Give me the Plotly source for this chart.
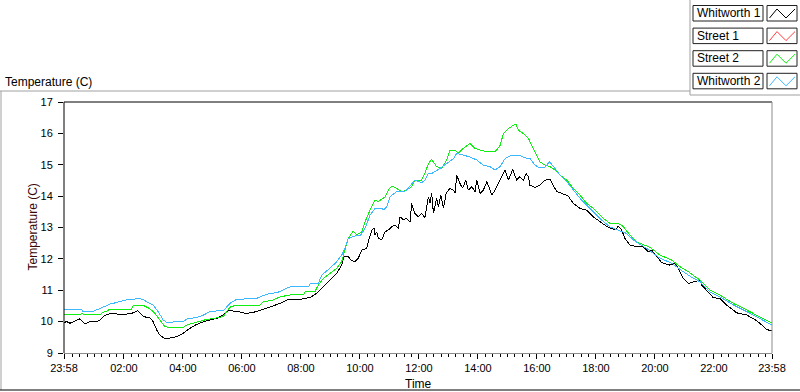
import plotly.graph_objects as go

# ---------------- data (hours from midnight; start = 23:58 of previous day) ----------------
whitworth1_time = [-0.033, 0.057, 0.17, 0.28, 0.40, 0.51, 0.62, 0.68, 0.85, 1.07, 1.19, 1.30, 1.41, 1.64, 1.86,
                   2.09, 2.32, 2.46, 2.54, 2.66, 2.88, 2.99, 3.11, 3.22, 3.39, 3.56, 3.79, 4.01, 4.24, 4.46,
                   4.80, 5.14, 5.37, 5.54, 5.82, 6.05, 6.16, 6.50, 6.72, 6.95, 7.29, 7.52, 7.97, 8.31, 8.53,
                   8.76, 8.98, 9.21, 9.38, 9.46, 9.60, 9.72, 9.83, 9.94, 10.06, 10.23, 10.28, 10.40, 10.48,
                   10.51, 10.57, 10.62, 10.74, 10.85, 10.96, 11.07, 11.19, 11.30, 11.36, 11.47, 11.58, 11.70,
                   11.75, 11.86, 11.98, 12.09, 12.20, 12.26, 12.32, 12.37, 12.43, 12.49, 12.60, 12.66, 12.74,
                   12.83, 12.92, 13.05, 13.17, 13.22, 13.28, 13.39, 13.48, 13.59, 13.67, 13.79, 13.90, 13.96,
                   14.07, 14.18, 14.30, 14.41, 14.46, 14.58, 14.69, 14.80, 14.92, 15.03, 15.18, 15.31, 15.42,
                   15.54, 15.63, 15.71, 15.76, 15.93, 16.10, 16.27, 16.44, 16.55, 16.67, 16.84, 17.06, 17.23,
                   17.46, 17.68, 17.91, 18.19, 18.36, 18.64, 18.76, 18.87, 18.98, 19.15, 19.38, 19.60, 19.77,
                   19.89, 20.06, 20.23, 20.51, 20.68, 20.79, 20.96, 21.13, 21.36, 21.53, 21.58, 21.81, 21.98,
                   22.20, 22.43, 22.77, 23.11, 23.45, 23.79, 23.967]
whitworth1_temp = [9.97, 10.00, 9.95, 10.00, 10.05, 10.09, 9.97, 9.92, 10.00, 10.00, 10.05, 10.16, 10.23, 10.26, 10.23,
                   10.24, 10.28, 10.35, 10.28, 10.16, 10.12, 10.00, 9.73, 9.57, 9.45, 9.47, 9.52, 9.63, 9.79, 9.91,
                   10.03, 10.10, 10.21, 10.35, 10.33, 10.28, 10.26, 10.32, 10.39, 10.47, 10.58, 10.69, 10.71, 10.77, 10.90,
                   11.11, 11.32, 11.54, 11.80, 12.07, 12.07, 11.94, 11.91, 12.02, 12.28, 12.33, 12.54, 12.92, 12.97,
                   12.76, 12.86, 12.65, 12.62, 12.86, 12.92, 13.02, 13.08, 12.97, 13.34, 13.24, 13.29, 13.18,
                   13.77, 13.45, 13.34, 13.45, 13.32, 13.66, 13.98, 13.77, 14.09, 13.45, 13.93, 13.66, 14.03,
                   13.61, 14.09, 14.25, 14.19, 14.09, 14.67, 14.40, 14.25, 14.51, 14.19, 14.30, 14.14, 14.51,
                   14.09, 14.19, 14.46, 14.19, 14.03, 14.19, 14.40, 14.56, 14.83, 14.51, 14.85, 14.51, 14.62,
                   14.51, 14.72, 14.62, 14.35, 14.28, 14.35, 14.51, 14.53, 14.35, 14.14, 14.09, 14.00, 13.77,
                   13.61, 13.55, 13.34, 13.15, 13.04, 12.92, 13.04, 12.92, 12.65, 12.44, 12.39, 12.39, 12.23,
                   12.28, 12.07, 11.88, 11.80, 11.86, 11.70, 11.38, 11.22, 11.27, 11.32, 11.17, 10.92, 10.76,
                   10.74, 10.53, 10.28, 10.21, 10.03, 9.75, 9.70]

street1_time = []   # no visible data for Street 1
street1_temp = []

street2_time = [-0.033, 0.51, 0.57, 0.68, 1.19, 1.28, 1.41, 1.53, 2.26, 2.32, 2.66, 2.71, 2.88, 3.05, 3.22, 3.39,
                3.56, 4.01, 4.12, 4.35, 4.58, 4.80, 5.03, 5.37, 5.48, 5.59, 5.82, 6.61, 6.72, 7.06, 7.29, 7.63,
                8.08, 8.14, 8.48, 8.59, 8.76, 8.98, 9.21, 9.38, 9.49, 9.60, 9.77, 9.89, 10.06, 10.17, 10.34,
                10.51, 10.62, 10.74, 10.85, 10.96, 11.07, 11.24, 11.41, 11.58, 11.75, 11.86, 12.09, 12.20,
                12.32, 12.43, 12.60, 12.77, 12.94, 13.05, 13.22, 13.33, 13.50, 13.73, 13.90, 14.07, 14.30,
                14.58, 14.75, 14.86, 15.03, 15.20, 15.29, 15.37, 15.54, 15.71, 15.82, 15.99, 16.10, 16.27,
                16.44, 16.61, 16.78, 17.01, 17.23, 17.46, 17.68, 17.91, 18.19, 18.47, 18.81, 18.93, 19.15,
                19.38, 19.83, 20.17, 20.57, 20.85, 21.13, 21.53, 21.86, 22.20, 22.66, 23.11, 23.45, 23.79, 23.967]
street2_temp = [10.22, 10.22, 10.26, 10.22, 10.22, 10.30, 10.33, 10.40, 10.40, 10.53, 10.53, 10.49, 10.41, 10.26, 10.05, 9.84,
                9.81, 9.81, 9.89, 9.95, 10.00, 10.07, 10.10, 10.16, 10.32, 10.46, 10.53, 10.53, 10.63, 10.69, 10.79, 10.85,
                10.85, 10.95, 10.97, 11.17, 11.38, 11.54, 11.70, 11.91, 12.28, 12.65, 12.89, 12.76, 12.86, 13.18, 13.55,
                13.87, 13.82, 13.92, 13.98, 14.19, 14.32, 14.25, 14.14, 14.19, 14.30, 14.51, 14.51, 14.72,
                15.04, 15.17, 14.94, 14.88, 15.15, 15.47, 15.47, 15.36, 15.52, 15.68, 15.52, 15.47, 15.41,
                15.41, 15.62, 15.99, 16.15, 16.26, 16.28, 16.10, 15.99, 15.84, 15.62, 15.31, 15.09, 14.99,
                14.94, 14.83, 14.67, 14.51, 14.25, 14.03, 13.77, 13.61, 13.34, 13.13, 13.11, 13.02, 12.76,
                12.54, 12.37, 12.12, 11.96, 11.75, 11.59, 11.32, 11.01, 10.85, 10.58, 10.37, 10.21, 10.05, 9.95]

whitworth2_time = [-0.033, 0.566, 0.60, 0.96, 1.19, 1.53, 1.75, 1.98, 2.15, 2.54, 2.65, 2.77, 2.99, 3.16, 3.33,
                   3.45, 4.01, 4.13, 4.58, 4.80, 4.92, 5.37, 5.48, 5.59, 5.82, 6.50, 6.61, 6.95, 7.18, 7.63,
                   8.25, 8.31, 8.59, 8.70, 8.98, 9.21, 9.38, 9.49, 9.60, 9.83, 10.00, 10.17, 10.34, 10.51,
                   10.74, 10.79, 10.91, 11.02, 11.24, 11.47, 11.58, 11.75, 11.86, 12.09, 12.20, 12.32, 12.43,
                   12.71, 12.94, 13.17, 13.28, 13.50, 13.73, 13.96, 14.18, 14.41, 14.58, 14.75, 14.92, 15.14,
                   15.37, 15.59, 15.76, 15.93, 16.05, 16.27, 16.42, 16.55, 16.78, 17.01, 17.23, 17.46, 17.68,
                   17.91, 18.19, 18.47, 18.70, 19.04, 19.27, 19.72, 20.17, 20.57, 20.96, 21.30, 21.53, 21.86,
                   22.20, 22.66, 23.11, 23.45, 23.79, 23.967]
whitworth2_temp = [10.40, 10.40, 10.33, 10.33, 10.42, 10.56, 10.61, 10.67, 10.71, 10.73, 10.71, 10.63, 10.53, 10.32, 10.05,
                   9.98, 10.00, 10.08, 10.16, 10.26, 10.33, 10.35, 10.47, 10.58, 10.71, 10.74, 10.79, 10.90, 10.92, 11.11,
                   11.11, 11.20, 11.22, 11.48, 11.70, 11.91, 12.12, 12.33, 12.65, 12.73, 12.73, 12.97, 13.39, 13.61,
                   13.61, 13.56, 13.66, 13.98, 14.14, 14.14, 14.19, 14.40, 14.51, 14.43, 14.51, 14.72, 14.72,
                   14.88, 15.04, 15.20, 15.36, 15.31, 15.25, 15.15, 14.99, 14.94, 14.83, 14.94, 15.20, 15.31,
                   15.31, 15.22, 15.20, 14.99, 14.92, 14.92, 15.09, 14.96, 14.67, 14.46, 14.19, 13.93, 13.71,
                   13.50, 13.24, 13.02, 12.94, 12.81, 12.60, 12.33, 12.02, 11.86, 11.59, 11.38, 11.27, 10.95,
                   10.79, 10.53, 10.32, 10.16, 10.00, 9.89]

series_names = ["Whitworth 1", "Street 1", "Street 2", "Whitworth 2"]
series_colors = ["#000000", "#ff3b3b", "#10f010", "#3cb8ff"]

x_tick_vals = [-2 / 60, 2, 4, 6, 8, 10, 12, 14, 16, 18, 20, 22, 24 - 2 / 60]
x_tick_text = ["23:58", "02:00", "04:00", "06:00", "08:00", "10:00", "12:00",
               "14:00", "16:00", "18:00", "20:00", "22:00", "23:58"]
y_tick_vals = [9, 10, 11, 12, 13, 14, 15, 16, 17]

# ---------------- geometry helpers (pixel -> paper) ----------------
W, H = 800, 392
ML, MR, MT, MB = 64, 28, 102, 39
PW = W - ML - MR
PH = H - MT - MB


def px(x):
    return (x - ML) / PW


def py(y):
    return (H - MB - y) / PH


FONT = "Liberation Sans"

fig = go.Figure()
series = [(whitworth1_time, whitworth1_temp), (street1_time, street1_temp),
          (street2_time, street2_temp), (whitworth2_time, whitworth2_temp)]
for (t, v), name, col in zip(series, series_names, series_colors):
    fig.add_trace(go.Scatter(x=t, y=v, mode="lines", name=name,
                             line=dict(color=col, width=1), showlegend=False,
                             hoverinfo="skip"))

shapes = []


def line(x0, y0, x1, y1, color, width=1):
    shapes.append(dict(type="line", xref="paper", yref="paper",
                       x0=px(x0), y0=py(y0), x1=px(x1), y1=py(y1),
                       line=dict(color=color, width=width), layer="above"))


# plot-area borders
line(64, 102, 772, 102, "#000000")
line(64, 102, 64, 353, "#000000")
line(772, 102, 772, 353, "#8c8c8c")
# outer frame
line(0, 91, 690, 91, "#a0a0a0")
line(1, 91, 1, 390, "#a0a0a0")
line(0, 390, 800, 390, "#000000")
# legend frame
line(690, 0, 690, 95, "#a0a0a0")
line(690, 95, 800, 95, "#a0a0a0")

annotations = []
for i, (name, col) in enumerate(zip(series_names, series_colors)):
    top = 5.5 + i * 22.6
    bot = top + 15.5
    shapes.append(dict(type="rect", xref="paper", yref="paper",
                       x0=px(693), x1=px(763), y0=py(bot), y1=py(top),
                       line=dict(color="#202020", width=1), fillcolor="white"))
    shapes.append(dict(type="rect", xref="paper", yref="paper",
                       x0=px(767), x1=px(797), y0=py(bot), y1=py(top),
                       line=dict(color="#202020", width=1), fillcolor="white"))
    pts = [(769.5, top + 12.5), (777, top + 3.5), (786, top + 12.5), (795, top + 3.5)]
    path = "M " + " L ".join(f"{px(a):.5f},{py(b):.5f}" for a, b in pts)
    shapes.append(dict(type="path", xref="paper", yref="paper", path=path,
                       line=dict(color=col, width=1)))
    annotations.append(dict(xref="paper", yref="paper", x=px(695), y=py((top + bot) / 2),
                            text=name, showarrow=False, xanchor="left", yanchor="middle",
                            font=dict(family=FONT, size=12, color="#000000")))

annotations.append(dict(xref="paper", yref="paper", x=px(3), y=py(82), text="Temperature (C)",
                        showarrow=False, xanchor="left", yanchor="middle",
                        font=dict(family=FONT, size=12, color="#000000")))
annotations.append(dict(xref="paper", yref="paper", x=px(32), y=py(227.5), text="Temperature (C)",
                        showarrow=False, xanchor="center", yanchor="middle", textangle=-90,
                        font=dict(family=FONT, size=12, color="#3a0606")))
annotations.append(dict(xref="paper", yref="paper", x=px(418), y=py(384), text="Time",
                        showarrow=False, xanchor="center", yanchor="middle",
                        font=dict(family=FONT, size=12, color="#000000")))

fig.update_layout(
    width=W, height=H,
    margin=dict(l=ML, r=MR, t=MT, b=MB, pad=0),
    paper_bgcolor="white", plot_bgcolor="white",
    font=dict(family=FONT, size=11, color="#000000"),
    shapes=shapes, annotations=annotations,
    xaxis=dict(range=[-2 / 60, 24 - 2 / 60], tickvals=x_tick_vals, ticktext=x_tick_text,
               ticks="outside", ticklen=5, tickcolor="#000000", tickwidth=1,
               showgrid=False, zeroline=False, showline=True, linecolor="#8c8c8c", linewidth=1,
               tickfont=dict(family=FONT, size=11, color="#000000"),
               minor=dict(ticks="outside", dtick=0.25, tick0=0, ticklen=3,
                          tickcolor="#000000", tickwidth=1, showgrid=False)),
    yaxis=dict(range=[9, 17], tickvals=y_tick_vals, ticks="outside", ticklen=5,
               tickcolor="#000000", tickwidth=1, showgrid=False, zeroline=False,
               showline=False, ticklabelstandoff=3,
               tickfont=dict(family=FONT, size=11, color="#000000")),
)

post = ("document.body.style.margin='0';document.body.style.padding='0';"
        "var st=document.createElement('style');"
        "st.textContent='.scatterlayer path.js-line{shape-rendering:crispEdges;}';"
        "document.head.appendChild(st);")
fig.write_html("out.html", config={"displayModeBar": False}, post_script=post)
